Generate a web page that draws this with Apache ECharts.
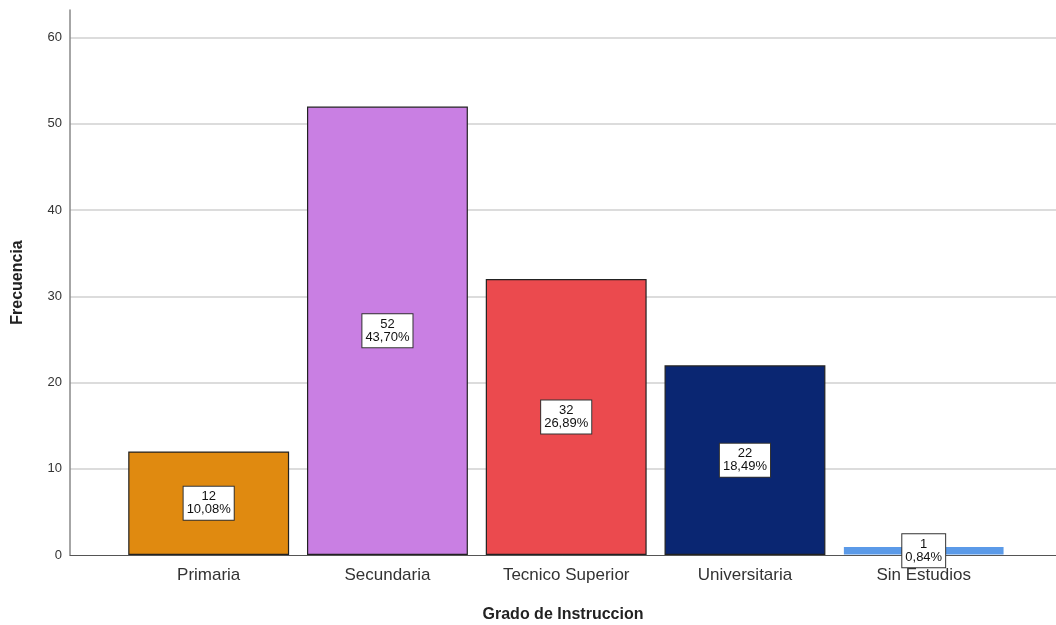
<!DOCTYPE html>
<html><head><meta charset="utf-8">
<script src="https://cdn.jsdelivr.net/npm/echarts@6/dist/echarts.min.js"></script>
<style>html,body{margin:0;padding:0;background:#fff}#c{width:1056px;height:625px}</style>
</head><body><div id="c"></div>
<script>
const categories = ['Primaria', 'Secundaria', 'Tecnico Superior', 'Universitaria', 'Sin Estudios'];
const counts = [12, 52, 32, 22, 1];
const percents = ['10,08%', '43,70%', '26,89%', '18,49%', '0,84%'];
const colors = ['#E08A10', '#C97FE3', '#EB4A4E', '#0A2672', '#5B9AE8'];
const borders = ['#222', '#222', '#222', '#222', 'rgba(0,0,0,0)'];
const yTicks = [0, 10, 20, 30, 40, 50, 60];
const yMax = 63.2;

const chart = echarts.init(document.getElementById('c'), null, {renderer: 'canvas'});
const font = 'Arial, "Liberation Sans", sans-serif';
chart.setOption({
  animation: false,
  grid: [
    {left: 70, right: 0, top: 10, bottom: 70, outerBoundsMode: 'none', containLabel: false},
    {left: 119.3, right: 42.9, top: 10, bottom: 70, outerBoundsMode: 'none', containLabel: false}
  ],
  xAxis: [
    {gridIndex: 0, type: 'category', data: categories, axisLine: {show: true, lineStyle: {color: '#555', width: 1}},
     axisTick: {show: false}, axisLabel: {show: false}, splitLine: {show: false},
     name: 'Grado de Instruccion', nameLocation: 'middle', nameGap: 52,
     nameTextStyle: {fontFamily: font, fontSize: 16, fontWeight: 'bold', color: '#222'}},
    {gridIndex: 1, type: 'category', data: categories, axisLine: {show: false}, axisTick: {show: false},
     axisLabel: {margin: 12, fontFamily: font, fontSize: 17, color: '#333'}}
  ],
  yAxis: [
    {gridIndex: 0, type: 'value', min: 0, max: yMax, interval: 10,
     axisLine: {show: true, lineStyle: {color: '#888', width: 1.5}}, axisTick: {show: false},
     axisLabel: {showMaxLabel: false, margin: 8, fontFamily: font, fontSize: 13, color: '#333',
       formatter: v => yTicks.includes(v) ? String(v) : ''},
     splitLine: {show: true, showMaxLine: false, showMinLine: false, lineStyle: {color: '#d0d0d0', width: 1.5}},
     name: 'Frecuencia', nameLocation: 'middle', nameGap: 44, nameRotate: 90,
     nameTextStyle: {fontFamily: font, fontSize: 16, fontWeight: 'bold', color: '#222'}},
    {gridIndex: 1, type: 'value', min: 0, max: yMax, interval: 10, show: false, splitLine: {show: false}}
  ],
  series: [{
    type: 'bar', xAxisIndex: 1, yAxisIndex: 1, barWidth: '90%',
    data: counts.map((v, i) => ({value: v, itemStyle: {color: colors[i], borderColor: borders[i], borderWidth: 1.2}})),
    label: {show: true, position: 'inside', formatter: p => counts[p.dataIndex] + '\n' + percents[p.dataIndex],
      fontFamily: font, fontSize: 13, lineHeight: 13, color: '#111', backgroundColor: '#fff',
      borderColor: '#333', borderWidth: 1, padding: [4, 3, 3, 3], align: 'center'}
  }]
});
</script></body></html>
